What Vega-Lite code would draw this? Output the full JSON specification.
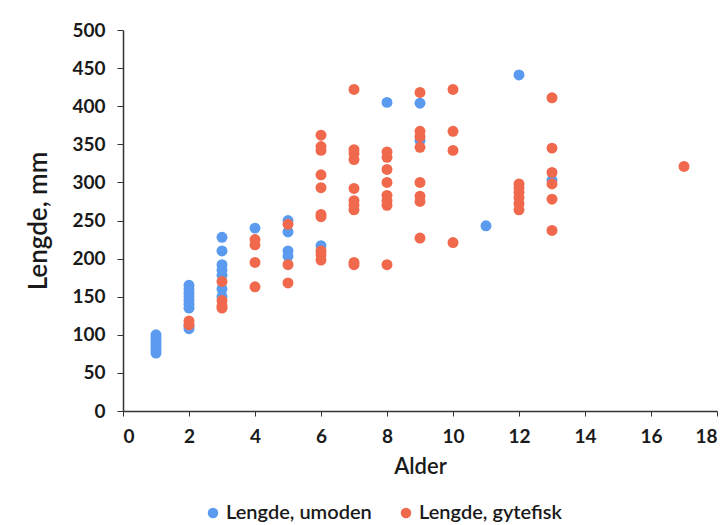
{
  "$schema": "https://vega.github.io/schema/vega-lite/v6.json",
  "width": 594,
  "height": 381,
  "autosize": "none",
  "padding": {"left": 123, "top": 30, "right": 11, "bottom": 114},
  "background": "white",
  "config": {
    "font": "Lato",
    "view": {"stroke": null},
    "axis": {"labelFont": "Lato", "titleFont": "Lato"}
  },
  "datasets": {
    "fisk": [
      {"alder": 1, "lengde": 76, "serie": "Lengde, umoden"},
      {"alder": 1, "lengde": 80, "serie": "Lengde, umoden"},
      {"alder": 1, "lengde": 84, "serie": "Lengde, umoden"},
      {"alder": 1, "lengde": 88, "serie": "Lengde, umoden"},
      {"alder": 1, "lengde": 92, "serie": "Lengde, umoden"},
      {"alder": 1, "lengde": 96, "serie": "Lengde, umoden"},
      {"alder": 1, "lengde": 100, "serie": "Lengde, umoden"},
      {"alder": 2, "lengde": 108, "serie": "Lengde, umoden"},
      {"alder": 2, "lengde": 112, "serie": "Lengde, umoden"},
      {"alder": 2, "lengde": 135, "serie": "Lengde, umoden"},
      {"alder": 2, "lengde": 140, "serie": "Lengde, umoden"},
      {"alder": 2, "lengde": 145, "serie": "Lengde, umoden"},
      {"alder": 2, "lengde": 150, "serie": "Lengde, umoden"},
      {"alder": 2, "lengde": 155, "serie": "Lengde, umoden"},
      {"alder": 2, "lengde": 160, "serie": "Lengde, umoden"},
      {"alder": 2, "lengde": 165, "serie": "Lengde, umoden"},
      {"alder": 3, "lengde": 150, "serie": "Lengde, umoden"},
      {"alder": 3, "lengde": 160, "serie": "Lengde, umoden"},
      {"alder": 3, "lengde": 178, "serie": "Lengde, umoden"},
      {"alder": 3, "lengde": 185, "serie": "Lengde, umoden"},
      {"alder": 3, "lengde": 192, "serie": "Lengde, umoden"},
      {"alder": 3, "lengde": 210, "serie": "Lengde, umoden"},
      {"alder": 3, "lengde": 228, "serie": "Lengde, umoden"},
      {"alder": 4, "lengde": 240, "serie": "Lengde, umoden"},
      {"alder": 5, "lengde": 203, "serie": "Lengde, umoden"},
      {"alder": 5, "lengde": 210, "serie": "Lengde, umoden"},
      {"alder": 5, "lengde": 235, "serie": "Lengde, umoden"},
      {"alder": 5, "lengde": 250, "serie": "Lengde, umoden"},
      {"alder": 6, "lengde": 217, "serie": "Lengde, umoden"},
      {"alder": 8, "lengde": 405, "serie": "Lengde, umoden"},
      {"alder": 9, "lengde": 404, "serie": "Lengde, umoden"},
      {"alder": 9, "lengde": 355, "serie": "Lengde, umoden"},
      {"alder": 11, "lengde": 243, "serie": "Lengde, umoden"},
      {"alder": 12, "lengde": 441, "serie": "Lengde, umoden"},
      {"alder": 13, "lengde": 303, "serie": "Lengde, umoden"},

      {"alder": 2, "lengde": 113, "serie": "Lengde, gytefisk"},
      {"alder": 2, "lengde": 118, "serie": "Lengde, gytefisk"},
      {"alder": 3, "lengde": 135, "serie": "Lengde, gytefisk"},
      {"alder": 3, "lengde": 138, "serie": "Lengde, gytefisk"},
      {"alder": 3, "lengde": 145, "serie": "Lengde, gytefisk"},
      {"alder": 3, "lengde": 170, "serie": "Lengde, gytefisk"},
      {"alder": 4, "lengde": 163, "serie": "Lengde, gytefisk"},
      {"alder": 4, "lengde": 195, "serie": "Lengde, gytefisk"},
      {"alder": 4, "lengde": 218, "serie": "Lengde, gytefisk"},
      {"alder": 4, "lengde": 225, "serie": "Lengde, gytefisk"},
      {"alder": 5, "lengde": 168, "serie": "Lengde, gytefisk"},
      {"alder": 5, "lengde": 192, "serie": "Lengde, gytefisk"},
      {"alder": 5, "lengde": 245, "serie": "Lengde, gytefisk"},
      {"alder": 6, "lengde": 198, "serie": "Lengde, gytefisk"},
      {"alder": 6, "lengde": 205, "serie": "Lengde, gytefisk"},
      {"alder": 6, "lengde": 210, "serie": "Lengde, gytefisk"},
      {"alder": 6, "lengde": 255, "serie": "Lengde, gytefisk"},
      {"alder": 6, "lengde": 258, "serie": "Lengde, gytefisk"},
      {"alder": 6, "lengde": 293, "serie": "Lengde, gytefisk"},
      {"alder": 6, "lengde": 310, "serie": "Lengde, gytefisk"},
      {"alder": 6, "lengde": 342, "serie": "Lengde, gytefisk"},
      {"alder": 6, "lengde": 347, "serie": "Lengde, gytefisk"},
      {"alder": 6, "lengde": 362, "serie": "Lengde, gytefisk"},
      {"alder": 7, "lengde": 192, "serie": "Lengde, gytefisk"},
      {"alder": 7, "lengde": 195, "serie": "Lengde, gytefisk"},
      {"alder": 7, "lengde": 264, "serie": "Lengde, gytefisk"},
      {"alder": 7, "lengde": 270, "serie": "Lengde, gytefisk"},
      {"alder": 7, "lengde": 276, "serie": "Lengde, gytefisk"},
      {"alder": 7, "lengde": 292, "serie": "Lengde, gytefisk"},
      {"alder": 7, "lengde": 330, "serie": "Lengde, gytefisk"},
      {"alder": 7, "lengde": 338, "serie": "Lengde, gytefisk"},
      {"alder": 7, "lengde": 343, "serie": "Lengde, gytefisk"},
      {"alder": 7, "lengde": 422, "serie": "Lengde, gytefisk"},
      {"alder": 8, "lengde": 192, "serie": "Lengde, gytefisk"},
      {"alder": 8, "lengde": 270, "serie": "Lengde, gytefisk"},
      {"alder": 8, "lengde": 276, "serie": "Lengde, gytefisk"},
      {"alder": 8, "lengde": 283, "serie": "Lengde, gytefisk"},
      {"alder": 8, "lengde": 300, "serie": "Lengde, gytefisk"},
      {"alder": 8, "lengde": 317, "serie": "Lengde, gytefisk"},
      {"alder": 8, "lengde": 333, "serie": "Lengde, gytefisk"},
      {"alder": 8, "lengde": 340, "serie": "Lengde, gytefisk"},
      {"alder": 9, "lengde": 227, "serie": "Lengde, gytefisk"},
      {"alder": 9, "lengde": 275, "serie": "Lengde, gytefisk"},
      {"alder": 9, "lengde": 282, "serie": "Lengde, gytefisk"},
      {"alder": 9, "lengde": 300, "serie": "Lengde, gytefisk"},
      {"alder": 9, "lengde": 346, "serie": "Lengde, gytefisk"},
      {"alder": 9, "lengde": 360, "serie": "Lengde, gytefisk"},
      {"alder": 9, "lengde": 367, "serie": "Lengde, gytefisk"},
      {"alder": 9, "lengde": 418, "serie": "Lengde, gytefisk"},
      {"alder": 10, "lengde": 221, "serie": "Lengde, gytefisk"},
      {"alder": 10, "lengde": 342, "serie": "Lengde, gytefisk"},
      {"alder": 10, "lengde": 367, "serie": "Lengde, gytefisk"},
      {"alder": 10, "lengde": 422, "serie": "Lengde, gytefisk"},
      {"alder": 12, "lengde": 264, "serie": "Lengde, gytefisk"},
      {"alder": 12, "lengde": 272, "serie": "Lengde, gytefisk"},
      {"alder": 12, "lengde": 280, "serie": "Lengde, gytefisk"},
      {"alder": 12, "lengde": 287, "serie": "Lengde, gytefisk"},
      {"alder": 12, "lengde": 293, "serie": "Lengde, gytefisk"},
      {"alder": 12, "lengde": 298, "serie": "Lengde, gytefisk"},
      {"alder": 13, "lengde": 237, "serie": "Lengde, gytefisk"},
      {"alder": 13, "lengde": 278, "serie": "Lengde, gytefisk"},
      {"alder": 13, "lengde": 298, "serie": "Lengde, gytefisk"},
      {"alder": 13, "lengde": 313, "serie": "Lengde, gytefisk"},
      {"alder": 13, "lengde": 345, "serie": "Lengde, gytefisk"},
      {"alder": 13, "lengde": 411, "serie": "Lengde, gytefisk"},
      {"alder": 17, "lengde": 321, "serie": "Lengde, gytefisk"}
    ]
  },
  "data": {"name": "fisk"},
  "mark": {"type": "circle", "size": 120, "opacity": 1},
  "encoding": {
    "x": {
      "field": "alder",
      "type": "quantitative",
      "title": "Alder",
      "scale": {"domain": [0, 18], "nice": false, "zero": true},
      "axis": {
        "values": [0, 2, 4, 6, 8, 10, 12, 14, 16, 18],
        "grid": false,
        "domainColor": "#333333",
        "domainWidth": 1.5,
        "tickColor": "#333333",
        "tickSize": 5,
        "labelFontSize": 19,
        "labelFontWeight": "bold",
        "labelColor": "#1a1a1a",
        "labelPadding": 11,
        "titleFontSize": 22,
        "titleFontWeight": 600,
        "titleColor": "#1a1a1a",
        "titlePadding": 10
      }
    },
    "y": {
      "field": "lengde",
      "type": "quantitative",
      "title": "Lengde, mm",
      "scale": {"domain": [0, 500], "nice": false},
      "axis": {
        "values": [0, 50, 100, 150, 200, 250, 300, 350, 400, 450, 500],
        "grid": false,
        "domainColor": "#333333",
        "domainWidth": 1.5,
        "tickColor": "#333333",
        "tickSize": 6,
        "labelFontSize": 19,
        "labelFontWeight": "bold",
        "labelColor": "#1a1a1a",
        "labelPadding": 12,
        "titleFontSize": 26,
        "titleFontWeight": 600,
        "titleColor": "#1a1a1a",
        "titlePadding": 20
      }
    },
    "color": {
      "field": "serie",
      "type": "nominal",
      "scale": {
        "domain": ["Lengde, umoden", "Lengde, gytefisk"],
        "range": ["#5B9BEF", "#F0694D"]
      },
      "legend": {
        "title": null,
        "orient": "none",
        "direction": "horizontal",
        "legendX": 80,
        "legendY": 473,
        "symbolType": "circle",
        "symbolSize": 110,
        "symbolOpacity": 1,
        "labelFontSize": 20,
        "labelFontWeight": 600,
        "labelColor": "#1a1a1a",
        "columnPadding": 24,
        "labelOffset": 3
      }
    }
  }
}
